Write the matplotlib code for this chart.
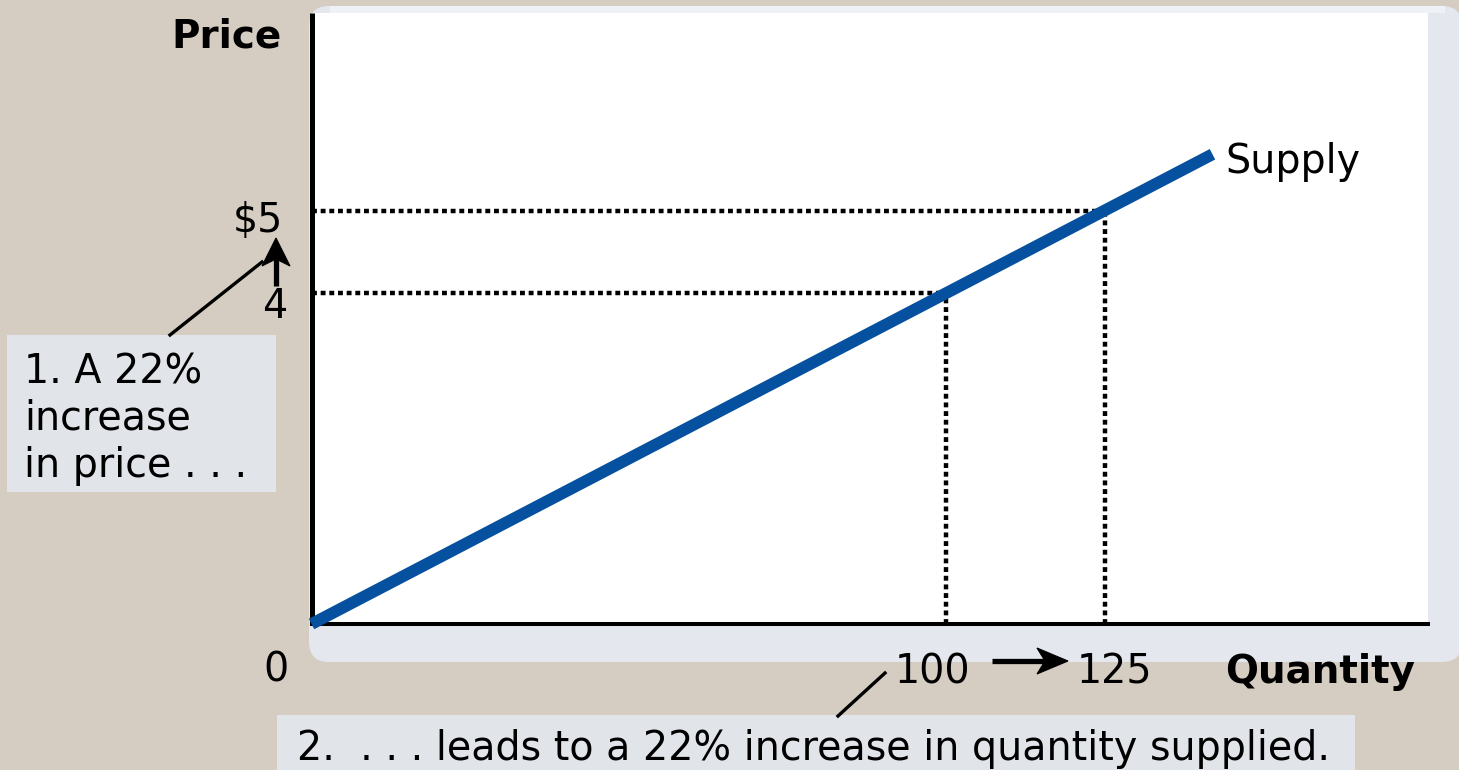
import matplotlib
matplotlib.use("Agg")
import math
import matplotlib.pyplot as plt
from matplotlib.patches import FancyBboxPatch, Rectangle, Polygon
from matplotlib.lines import Line2D

plt.rcParams['font.family'] = ['DejaVu Sans']

# ---- data ----
supply_q = [0, 142]
supply_p = [0, 5.68]
points_q = [100, 125]
points_p = [4, 5]
price_labels = ['4', '$5']
qty_labels = ['100', '125']
origin_label = '0'
x_title = 'Quantity'
y_title = 'Price'
curve_label = 'Supply'
note1_lines = ['1. A 22%', 'increase', 'in price . . .']
note2 = '2.  . . . leads to a 22% increase in quantity supplied.'

W, H = 1459, 770
BG = '#d5cdc2'
BOX = '#e1e4e9'
BLUE = '#05509f'
FS = 28.5

fig = plt.figure(figsize=(W / 100, H / 100), dpi=100, facecolor=BG)


def fx(px):
    return px / W


def fy(py):
    return 1 - py / H


def fxy(px, py):
    return (fx(px), fy(py))


# panel background
panel = FancyBboxPatch(fxy(309, 662), fx(1462) - fx(309), fy(6) - fy(662),
                       boxstyle='round,pad=0,rounding_size=%f' % (20 / W),
                       mutation_aspect=W / H,
                       transform=fig.transFigure, facecolor='#e4e7ee',
                       edgecolor='none', zorder=0)
fig.patches.append(panel)
fig.patches.append(Rectangle(fxy(330, 13), fx(1445) - fx(330), fy(6) - fy(13),
                             transform=fig.transFigure, facecolor='#eef1f5',
                             edgecolor='none', zorder=0.5))
fig.patches.append(Rectangle(fxy(311, 626), fx(1428) - fx(311), fy(13) - fy(626),
                             transform=fig.transFigure, facecolor='white',
                             edgecolor='none', zorder=1))

# axes
x0_px, y0_px = 311.5, 624
x_px_per_unit = 6.345
y_px_per_unit = 82.7
ax = fig.add_axes([fx(x0_px), fy(y0_px), fx(1428) - fx(x0_px), fy(13) - fy(y0_px)])
ax.set_zorder(3)
ax.set_facecolor('none')
ax.set_xlim(0, (1428 - x0_px) / x_px_per_unit)
ax.set_ylim(0, (y0_px - 13) / y_px_per_unit)
for s in ['top', 'right']:
    ax.spines[s].set_visible(False)
ax.spines['left'].set_linewidth(3.6)
ax.spines['bottom'].set_linewidth(2.9)
ax.spines['left'].set_capstyle('butt')
ax.set_xticks([])
ax.set_yticks([])

# dotted guides
dot = (0, (1.1, 0.85))
for q, p in zip(points_q, points_p):
    ax.plot([0, q], [p, p], color='black', lw=3.2, linestyle=dot, zorder=2)
    ax.plot([q, q], [0, p], color='black', lw=3.2, linestyle=dot, zorder=2)

# supply curve
ax.plot(supply_q, supply_p, color=BLUE, lw=8.5, solid_capstyle='butt',
        zorder=3, clip_on=False)
ax.annotate(curve_label, xy=(supply_q[-1], supply_p[-1]), xytext=(13, -19),
            textcoords='offset pixels', ha='left', va='baseline', fontsize=FS)

# price labels
ax.annotate(price_labels[1], xy=(0, points_p[1]), xytext=(-28, -21),
            textcoords='offset pixels', ha='right', va='baseline',
            fontsize=FS, annotation_clip=False)
ax.annotate(price_labels[0], xy=(0, points_p[0]), xytext=(-37, -25),
            textcoords='offset pixels', ha='center', va='baseline',
            fontsize=FS, annotation_clip=False)

# quantity labels
ax.annotate(origin_label, xy=(0, 0), xytext=(-35, -58),
            textcoords='offset pixels', ha='center', va='baseline',
            fontsize=FS, annotation_clip=False)
ax.annotate(qty_labels[0], xy=(points_q[0], 0), xytext=(-14, -59),
            textcoords='offset pixels', ha='center', va='baseline',
            fontsize=FS, annotation_clip=False)
ax.annotate(qty_labels[1], xy=(points_q[1], 0), xytext=(10, -59),
            textcoords='offset pixels', ha='center', va='baseline',
            fontsize=FS, annotation_clip=False)

# axis titles
fig.text(fx(282), fy(47), y_title, ha='right', va='baseline',
         fontsize=FS - 0.5, fontweight='bold', zorder=4)
fig.text(fx(1415), fy(683), x_title, ha='right', va='baseline',
         fontsize=FS - 0.5, fontweight='bold', zorder=4)


# arrows (shaft + swept-back head)
def arrow(x0, y0, x1, y1, L=28, hw=12.5, notch=8):
    dx, dy = x1 - x0, y1 - y0
    n = math.hypot(dx, dy)
    ux, uy = dx / n, dy / n
    px_, py_ = -uy, ux
    bx, by = x1 - ux * L, y1 - uy * L
    nx_, ny_ = x1 - ux * (L - notch), y1 - uy * (L - notch)
    fig.lines.append(Line2D([fx(x0), fx(nx_ + ux * 2)], [fy(y0), fy(ny_ + uy * 2)],
                            transform=fig.transFigure, color='black', lw=3.8,
                            solid_capstyle='butt', zorder=5))
    pts = [fxy(x1, y1), fxy(bx + px_ * hw, by + py_ * hw), fxy(nx_, ny_),
           fxy(bx - px_ * hw, by - py_ * hw)]
    fig.patches.append(Polygon(pts, closed=True, transform=fig.transFigure,
                               facecolor='black', edgecolor='black', lw=0.8,
                               zorder=5))


arrow(276, 286, 276, 238, L=28, hw=14, notch=7)
arrow(992, 661, 1068, 661, L=31, hw=13, notch=8)

# note boxes
fig.patches.append(Rectangle(fxy(7, 492), fx(276) - fx(7), fy(335) - fy(492),
                             transform=fig.transFigure, facecolor=BOX,
                             edgecolor='none', zorder=1))
fig.patches.append(Rectangle(fxy(277, 775), fx(1355) - fx(277), fy(715) - fy(775),
                             transform=fig.transFigure, facecolor=BOX,
                             edgecolor='none', zorder=1))
for line, base in zip(note1_lines, [384, 430, 477]):
    fig.text(fx(24), fy(base), line, ha='left', va='baseline', fontsize=FS, zorder=4)
fig.text(fx(297), fy(760), note2, ha='left', va='baseline', fontsize=FS, zorder=4)

# leader lines
fig.lines.append(Line2D([fx(170), fx(262)], [fy(335), fy(262)],
                        transform=fig.transFigure, color='black', lw=2.4, zorder=4))
fig.lines.append(Line2D([fx(838), fx(885)], [fy(716), fy(673)],
                        transform=fig.transFigure, color='black', lw=2.4, zorder=4))

fig.savefig('out.png', dpi=100, facecolor=BG)
